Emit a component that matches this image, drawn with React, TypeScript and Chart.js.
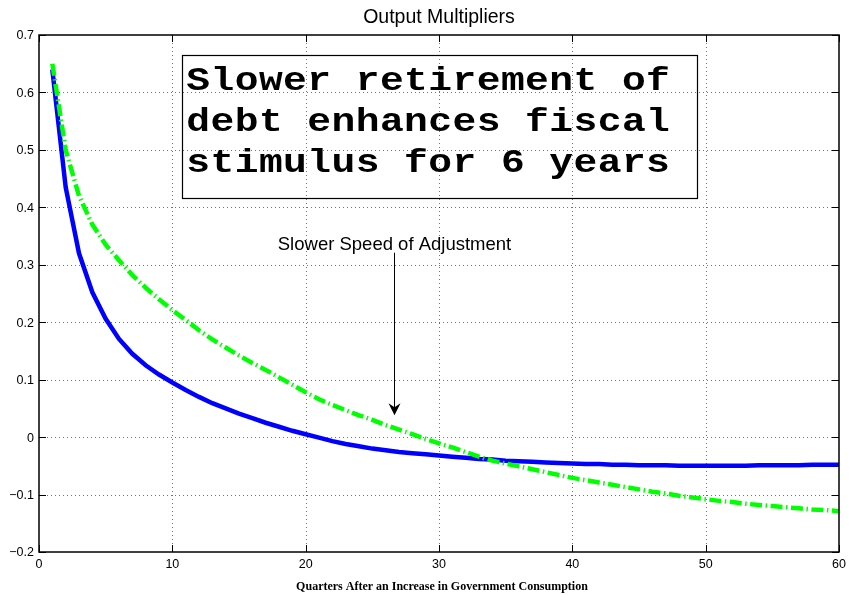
import { useEffect, useRef } from "react";
import { Chart, registerables } from "chart.js";

Chart.register(...registerables);

// Quarters after the increase in government consumption
const quarters = [
  1, 2, 3, 4, 5, 6, 7, 8, 9, 10,
  11, 12, 13, 14, 15, 16, 17, 18, 19, 20,
  21, 22, 23, 24, 25, 26, 27, 28, 29, 30,
  31, 32, 33, 34, 35, 36, 37, 38, 39, 40,
  41, 42, 43, 44, 45, 46, 47, 48, 49, 50,
  51, 52, 53, 54, 55, 56, 57, 58, 59, 60,
];

// Output multiplier, baseline speed of debt adjustment (solid blue)
const baselineMultiplier = [
  0.640, 0.435, 0.320, 0.252, 0.206, 0.171, 0.145, 0.125, 0.109, 0.095,
  0.082, 0.070, 0.059, 0.050, 0.041, 0.033, 0.025, 0.018, 0.011, 0.005,
  -0.001, -0.007, -0.012, -0.016, -0.020, -0.023, -0.026, -0.028, -0.030, -0.032,
  -0.034, -0.036, -0.038, -0.039, -0.041, -0.042, -0.043, -0.044, -0.045, -0.046,
  -0.047, -0.047, -0.048, -0.048, -0.049, -0.049, -0.049, -0.050, -0.050, -0.050,
  -0.050, -0.050, -0.050, -0.049, -0.049, -0.049, -0.049, -0.048, -0.048, -0.048,
];

// Output multiplier, slower speed of debt adjustment (green dash-dot)
const slowerMultiplier = [
  0.650, 0.500, 0.420, 0.370, 0.335, 0.308, 0.282, 0.260, 0.240, 0.221,
  0.204, 0.186, 0.170, 0.156, 0.142, 0.129, 0.117, 0.104, 0.091, 0.078,
  0.066, 0.056, 0.047, 0.038, 0.030, 0.021, 0.013, 0.005, -0.003, -0.011,
  -0.018, -0.026, -0.034, -0.041, -0.046, -0.051, -0.056, -0.061, -0.066, -0.071,
  -0.075, -0.079, -0.083, -0.087, -0.091, -0.095, -0.098, -0.102, -0.105, -0.108,
  -0.111, -0.113, -0.116, -0.118, -0.120, -0.122, -0.124, -0.126, -0.127, -0.129,
];

const xTickValues = [0, 10, 20, 30, 40, 50, 60];
const xTickLabels = ["0", "10", "20", "30", "40", "50", "60"];
const yTickValues = [-0.2, -0.1, 0, 0.1, 0.2, 0.3, 0.4, 0.5, 0.6, 0.7];
const yTickLabels = ["\u22120.2", "\u22120.1", "0", "0.1", "0.2", "0.3", "0.4", "0.5", "0.6", "0.7"];

const chartTitle = "Output Multipliers";
const xAxisTitle = "Quarters After an Increase in Government Consumption";
const calloutLines = ["Slower retirement of", "debt enhances fiscal", "stimulus for 6 years"];
const arrowLabel = "Slower Speed of Adjustment";

// Callout box corners and arrow anchor, in data units
const calloutBox = { left: 10.7, right: 49.3, top: 0.665, bottom: 0.416 };
const arrowAnchor = { x: 26.6, top: 0.321, tip: 0.038 };

const SANS = '"Liberation Sans", Arial, Helvetica, sans-serif';

const framePlugin = {
  id: "matlabFrame",
  beforeDatasetsDraw(chart: any) {
    const { ctx, chartArea: a, scales } = chart;
    const xs = scales.x;
    const ys = scales.y;
    ctx.save();
    ctx.strokeStyle = "rgba(0,0,0,0.55)";
    ctx.lineWidth = 1;
    ctx.setLineDash([1, 3]);
    for (const v of xTickValues) {
      if (v <= xs.min || v >= xs.max) continue;
      const X = Math.round(xs.getPixelForValue(v)) + 0.5;
      ctx.beginPath();
      ctx.moveTo(X, a.top);
      ctx.lineTo(X, a.bottom);
      ctx.stroke();
    }
    for (const v of yTickValues) {
      if (v <= ys.min + 1e-9 || v >= ys.max - 1e-9) continue;
      const Y = Math.round(ys.getPixelForValue(v)) + 0.5;
      ctx.beginPath();
      ctx.moveTo(a.left, Y);
      ctx.lineTo(a.right, Y);
      ctx.stroke();
    }
    ctx.restore();
  },
  afterDatasetsDraw(chart: any) {
    const { ctx, chartArea: a, scales } = chart;
    const xs = scales.x;
    const ys = scales.y;
    ctx.save();
    ctx.setLineDash([]);

    // axes box
    ctx.strokeStyle = "#000";
    ctx.lineWidth = 1.5;
    ctx.strokeRect(a.left, a.top, a.right - a.left, a.bottom - a.top);

    // inward ticks on all four sides
    const tl = 7;
    ctx.lineWidth = 1;
    ctx.beginPath();
    for (const v of xTickValues) {
      const X = Math.round(xs.getPixelForValue(v)) + 0.5;
      ctx.moveTo(X, a.bottom);
      ctx.lineTo(X, a.bottom - tl);
      ctx.moveTo(X, a.top);
      ctx.lineTo(X, a.top + tl);
    }
    for (const v of yTickValues) {
      const Y = Math.round(ys.getPixelForValue(v)) + 0.5;
      ctx.moveTo(a.left, Y);
      ctx.lineTo(a.left + tl, Y);
      ctx.moveTo(a.right, Y);
      ctx.lineTo(a.right - tl, Y);
    }
    ctx.stroke();

    // tick labels
    ctx.fillStyle = "#000";
    ctx.font = `12.5px ${SANS}`;
    ctx.textAlign = "center";
    ctx.textBaseline = "top";
    xTickValues.forEach((v, i) => {
      ctx.fillText(xTickLabels[i], xs.getPixelForValue(v), a.bottom + 6);
    });
    ctx.textAlign = "right";
    ctx.textBaseline = "middle";
    yTickValues.forEach((v, i) => {
      ctx.fillText(yTickLabels[i], a.left - 5, ys.getPixelForValue(v) + 1);
    });

    // title and x-axis title
    const cx = (a.left + a.right) / 2;
    ctx.textAlign = "center";
    ctx.textBaseline = "alphabetic";
    ctx.font = `19.5px ${SANS}`;
    ctx.fillText(chartTitle, cx, a.top - 12);
    ctx.font = 'bold 12px "Liberation Serif", "Times New Roman", serif';
    ctx.fillText(xAxisTitle, cx + 3, a.bottom + 38);

    // callout box with wide monospace text
    const bl = xs.getPixelForValue(calloutBox.left);
    const br = xs.getPixelForValue(calloutBox.right);
    const bt = ys.getPixelForValue(calloutBox.top);
    const bb = ys.getPixelForValue(calloutBox.bottom);
    ctx.lineWidth = 1.2;
    ctx.strokeRect(Math.round(bl) + 0.5, Math.round(bt) + 0.5, Math.round(br - bl), Math.round(bb - bt));
    ctx.font = 'bold 33px "Liberation Mono", "Courier New", monospace';
    ctx.textAlign = "center";
    const pitch = 24.2;
    const stretch = 1.2;
    calloutLines.forEach((line, li) => {
      const baseY = bt + 35 + li * 41;
      for (let i = 0; i < line.length; i++) {
        ctx.save();
        ctx.translate(bl + 16.5 + pitch * i, baseY);
        ctx.scale(stretch, 1);
        ctx.fillText(line[i], 0, 0);
        ctx.restore();
      }
    });

    // arrow annotation
    const ax = Math.round(xs.getPixelForValue(arrowAnchor.x)) + 0.5;
    const aTop = ys.getPixelForValue(arrowAnchor.top);
    const aTip = ys.getPixelForValue(arrowAnchor.tip);
    ctx.font = `18.5px ${SANS}`;
    ctx.textAlign = "center";
    ctx.fillText(arrowLabel, ax, aTop - 3);
    ctx.lineWidth = 1;
    ctx.beginPath();
    ctx.moveTo(ax, aTop);
    ctx.lineTo(ax, aTip - 6);
    ctx.stroke();
    ctx.beginPath();
    ctx.moveTo(ax, aTip);
    ctx.lineTo(ax - 6, aTip - 12);
    ctx.lineTo(ax, aTip - 8);
    ctx.lineTo(ax + 6, aTip - 12);
    ctx.closePath();
    ctx.fill();

    ctx.restore();
  },
};

export default function App() {
  const canvasRef = useRef<HTMLCanvasElement | null>(null);

  useEffect(() => {
    document.body.style.margin = "0";
    const canvas = canvasRef.current;
    if (!canvas) return;
    const chart = new Chart(canvas, {
      type: "line",
      data: {
        datasets: [
          {
            label: "Slower speed of adjustment",
            data: quarters.map((q, i) => ({ x: q, y: slowerMultiplier[i] })),
            borderColor: "#00ff00",
            borderWidth: 4.5,
            borderDash: [12, 3.5, 1.5, 3.5],
            borderCapStyle: "butt",
            pointRadius: 0,
            tension: 0,
            fill: false,
          },
          {
            label: "Baseline",
            data: quarters.map((q, i) => ({ x: q, y: baselineMultiplier[i] })),
            borderColor: "#0000ff",
            borderWidth: 4.5,
            pointRadius: 0,
            tension: 0,
            fill: false,
          },
        ],
      },
      options: {
        responsive: false,
        animation: false,
        devicePixelRatio: 1,
        layout: { padding: { left: 39, right: 10, top: 35, bottom: 43 } },
        plugins: {
          legend: { display: false },
          tooltip: { enabled: false },
          title: { display: false },
        },
        scales: {
          x: { type: "linear", min: 0, max: 60, display: false },
          y: { type: "linear", min: -0.2, max: 0.7, display: false },
        },
      },
      plugins: [framePlugin],
    });
    return () => chart.destroy();
  }, []);

  return (
    <div style={{ position: "absolute", left: 0, top: 0, width: 849, height: 595, background: "#fff" }}>
      <canvas ref={canvasRef} width={849} height={595} style={{ display: "block" }} />
    </div>
  );
}
